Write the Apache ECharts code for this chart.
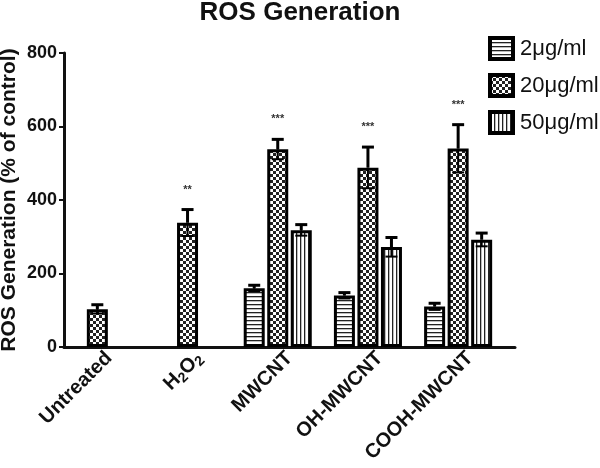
<!DOCTYPE html>
<html>
<head>
<meta charset="utf-8">
<script src="https://cdn.jsdelivr.net/npm/echarts@6/dist/echarts.min.js"></script>
<style>html,body{margin:0;padding:0;background:#fff}#c{width:600px;height:468px}</style>
</head>
<body>
<div id="c"></div>
<script>
const categories = ['Untreated', 'H2O2', 'MWCNT', 'OH-MWCNT', 'COOH-MWCNT'];
const seriesNames = ['2μg/ml', '20μg/ml', '50μg/ml'];
const values2 = [null, null, 160, 140, 110];
const errors2 = [null, null, 8, 8, 9];
const values20 = [103, 338, 538, 488, 540];
const errors20 = [12, 36, 27, 56, 65];
const values50 = [null, null, 318, 272, 292];
const errors50 = [null, null, 15, 26, 18];
const significance = ['', '**', '***', '***', '***'];
const yTicks = [0, 200, 400, 600, 800];

const FONT = '"Liberation Sans", Arial, sans-serif';
const BW = 21, GAPR = 0.12, NB = 4;

function makePattern(kind) {
  const c = document.createElement('canvas');
  const s = kind === 'check' ? 6 : 4;
  c.width = s; c.height = s;
  const g = c.getContext('2d');
  g.fillStyle = '#fff'; g.fillRect(0, 0, s, s);
  g.fillStyle = '#222';
  if (kind === 'h') { g.fillRect(0, 0, s, 1.3); }
  else if (kind === 'v') { g.fillRect(0, 0, 1.3, s); }
  else { g.fillRect(0, 0, 3, 3); g.fillRect(3, 3, 3, 3); }
  return c;
}
const patterns = [makePattern('h'), makePattern('check'), makePattern('v')];
const vals = [values2, values20, values50];
const errs = [errors2, errors20, errors50];

function barOffset(k) {
  const gap = BW * GAPR;
  const total = NB * BW + (NB - 1) * gap;
  return -total / 2 + k * (BW + gap) + BW / 2;
}

const errData = [];
vals.forEach((arr, s) => arr.forEach((v, i) => { if (v != null) errData.push([i, v, errs[s][i], s]); }));
const sigData = significance.map((t, i) => [i, values20[i] + errors20[i], t]);

const chart = echarts.init(document.getElementById('c'), null, {renderer: 'canvas'});
const barSeries = seriesNames.map((name, s) => ({
  name, type: 'bar', barWidth: BW, barGap: (GAPR * 100) + '%',
  data: vals[s].map(v => v == null ? '-' : v),
  itemStyle: {color: {image: patterns[s], repeat: 'repeat'}, borderColor: '#000', borderWidth: 3},
  z: 2
}));
barSeries.push({name: 'pad', type: 'bar', barWidth: BW, barGap: (GAPR * 100) + '%', data: categories.map(() => '-')});

chart.setOption({
  animation: false,
  title: {text: 'ROS Generation', left: 300, top: 0, padding: 0, textAlign: 'center',
    textStyle: {fontFamily: FONT, fontWeight: 'bold', fontSize: 26, color: '#111'}},
  legend: {data: seriesNames, orient: 'vertical', left: 488, top: 36, icon: 'rect',
    itemWidth: 23, itemHeight: 21, itemGap: 12, padding: 0,
    itemStyle: {borderWidth: 4, borderColor: '#000'},
    textStyle: {fontFamily: FONT, fontSize: 22, color: '#111', padding: [0, 0, 0, 2]}},
  grid: {left: 64, right: 85, top: 53, bottom: 121, containLabel: false, outerBoundsMode: 'none'},
  xAxis: {type: 'category', data: categories,
    axisLine: {lineStyle: {color: '#111', width: 3}},
    axisTick: {length: 6, lineStyle: {color: '#111', width: 2}, alignWithLabel: true},
    axisLabel: {rotate: 45, margin: 8, fontFamily: FONT, fontWeight: 'bold', fontSize: 20, color: '#111',
      formatter: v => v === 'H2O2' ? '{n|H}{s|2}{n|O}{s|2}' : v,
      rich: {n: {fontFamily: FONT, fontWeight: 'bold', fontSize: 20, color: '#111'},
             s: {fontFamily: FONT, fontWeight: 'bold', fontSize: 14, color: '#111', verticalAlign: 'bottom', padding: [10, 0, 0, 0]}}}},
  yAxis: {type: 'value', min: 0, max: 800, interval: 200,
    name: 'ROS Generation (% of control)', nameLocation: 'middle', nameGap: 44, nameMoveOverlap: false,
    nameTextStyle: {fontFamily: FONT, fontWeight: 'bold', fontSize: 21, color: '#111'},
    axisLine: {show: true, lineStyle: {color: '#111', width: 3}},
    axisTick: {show: true, length: 5, lineStyle: {color: '#111', width: 2}},
    splitLine: {show: false},
    axisLabel: {fontFamily: FONT, fontWeight: 'bold', fontSize: 18, color: '#111', margin: 7,
      formatter: v => yTicks.includes(v) ? String(v) : ''}},
  series: barSeries.concat([
    {type: 'custom', z: 5, data: errData, renderItem: (params, api) => {
      const i = api.value(0), v = api.value(1), e = api.value(2), s = api.value(3);
      const base = api.coord([i, v]);
      const x = base[0] + barOffset(s);
      const yTop = api.coord([i, v + e])[1];
      const yBot = api.coord([i, v - e])[1];
      const cap = 6;
      return {type: 'group', children: [
        {type: 'line', shape: {x1: x, y1: yTop, x2: x, y2: base[1]}, style: {stroke: '#000', lineWidth: 3}},
        {type: 'line', shape: {x1: x - cap, y1: yTop, x2: x + cap, y2: yTop}, style: {stroke: '#000', lineWidth: 3}},
        {type: 'line', shape: {x1: x, y1: base[1], x2: x, y2: yBot}, style: {stroke: '#000', lineWidth: 2}},
        {type: 'line', shape: {x1: x - cap, y1: yBot, x2: x + cap, y2: yBot}, style: {stroke: '#000', lineWidth: 2}}
      ]};
    }},
    {type: 'custom', z: 6, data: sigData, renderItem: (params, api) => {
      const i = api.value(0), top = api.value(1);
      const p = api.coord([i, top]);
      return {type: 'text', x: p[0] + barOffset(1), y: p[1] - 20,
        style: {text: significance[i], fill: '#333', font: 'bold 11px ' + FONT, textAlign: 'center', textVerticalAlign: 'middle'}};
    }}
  ])
});
</script>
</body>
</html>
